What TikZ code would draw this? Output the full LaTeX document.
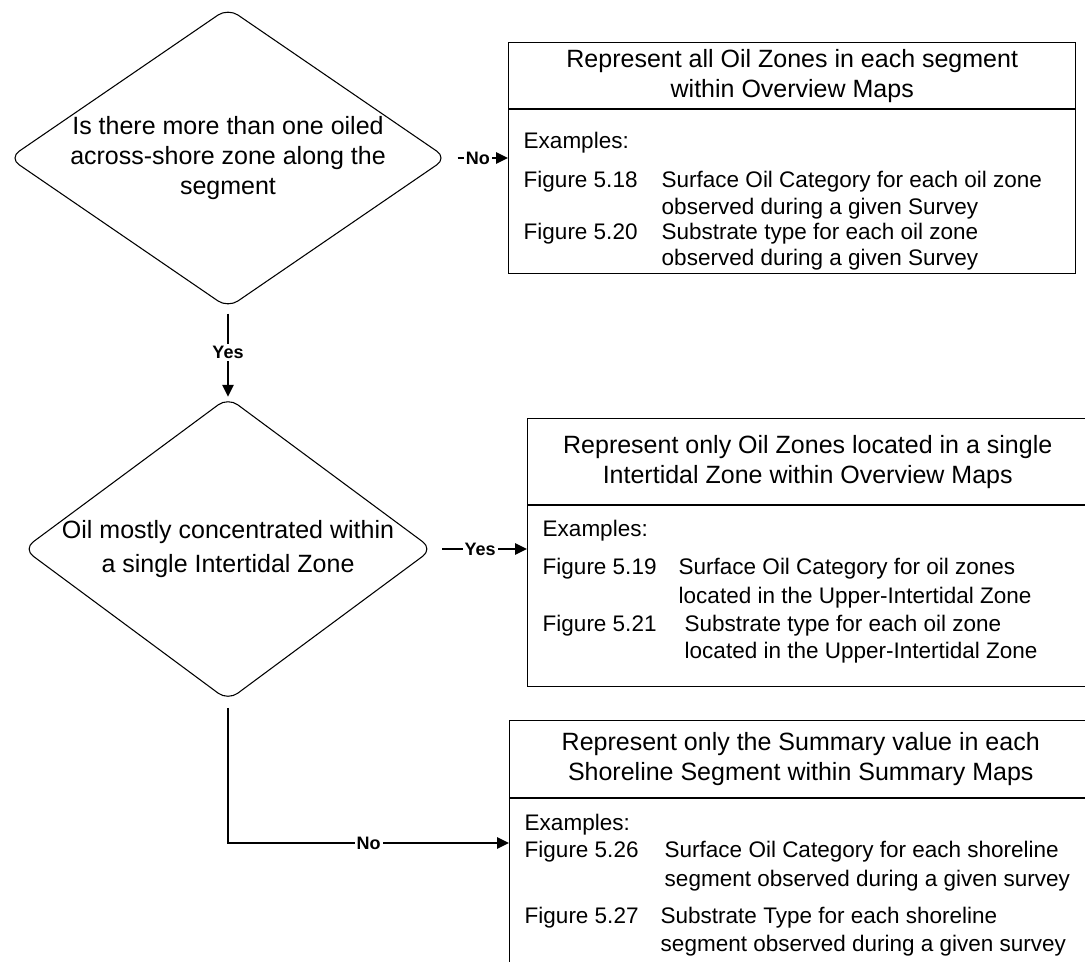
\documentclass[tikz,border=0pt]{standalone}
\usepackage{fontspec}
\setmainfont{Liberation Sans}
\usepackage{tikz}
\usetikzlibrary{positioning}
\usetikzlibrary{shapes.geometric,shapes.multipart}
\usetikzlibrary{arrows.meta}

\newlength{\pxu}
\setlength{\pxu}{0.75pt}
\newcommand{\figrow}[3]{\makebox[#1\pxu][l]{#2}#3}
\newcommand{\figcont}[2]{\hspace*{#1\pxu}#2}
\newcommand{\headtext}[3]{\parbox[c][#1\pxu][c]{#2\pxu}{\centering\fontsize{18.75}{22.5}\selectfont #3}}
\newcommand{\bodytext}[3]{\parbox[c][#1\pxu][t]{#2\pxu}{\fontsize{16.875}{20.25}\selectfont\leftskip=15\pxu #3}}

\begin{document}
\begin{tikzpicture}[x=0.75pt, y=-0.75pt,
    decision/.style={draw=black, line width=0.8pt, shape=diamond, rounded corners=9pt, inner sep=0pt, align=center, font=\fontsize{18.75}{22.5}\selectfont},
    result/.style={draw=black, line width=1.1pt, rectangle split, rectangle split parts=2, inner sep=0pt, anchor=north west},
    flow/.style={draw=black, line width=1.4pt, -{Triangle[length=9pt,width=8.5pt]}},
    answer/.style={fill=white, inner sep=1.5pt, font=\fontsize{13.5}{16}\selectfont\bfseries}]
    \useasboundingbox (0,0) rectangle (1085,961);
    \clip (0,0) rectangle (1085,961);

    \node[decision, minimum width=328.5pt, minimum height=225pt, shape aspect=1.46] (q1) at (228,158) {Is there more than one oiled\\across-shore zone along the\\segment};
    \node[decision, minimum width=301.5pt, minimum height=223.5pt, shape aspect=1.35, font=\fontsize{18.75}{25.5}\selectfont] (q2) at (228,549) {Oil mostly concentrated within\\a single Intertidal Zone};

    \node[result] (b1) at (508,42) {\headtext{65}{567}{Represent all Oil Zones in each segment\\within Overview Maps}\nodepart{two}\bodytext{163}{567}{\vspace*{22\pxu}Examples:\\[12\pxu]
        \figrow{138}{Figure 5.18}{Surface Oil Category for each oil zone}\\
        \figcont{138}{observed during a given Survey}\\[-2\pxu]
        \figrow{138}{Figure 5.20}{Substrate type for each oil zone}\\[-1\pxu]
        \figcont{138}{observed during a given Survey}}};
    \node[result] (b2) at (527,418) {\headtext{85}{560}{Represent only Oil Zones located in a single\\Intertidal Zone within Overview Maps}\nodepart{two}\bodytext{180}{560}{\vspace*{14\pxu}Examples:\\[11\pxu]
        \figrow{136}{Figure 5.19}{Surface Oil Category for oil zones}\\[2\pxu]
        \figcont{136}{located in the Upper-Intertidal Zone}\\[1\pxu]
        \figrow{142}{Figure 5.21}{Substrate type for each oil zone}\\
        \figcont{142}{located in the Upper-Intertidal Zone}}};
    \node[result] (b3) at (509,720) {\headtext{76}{582}{Represent only the Summary value in each\\Shoreline Segment within Summary Maps}\nodepart{two}\bodytext{200}{582}{\vspace*{15\pxu}Examples:\\
        \figrow{140}{Figure 5.26}{Surface Oil Category for each shoreline}\\[2\pxu]
        \figcont{140}{segment observed during a given survey}\\[10\pxu]
        \figrow{136}{Figure 5.27}{Substrate Type for each shoreline}\\[1\pxu]
        \figcont{136}{segment observed during a given survey}}};
    \coordinate (n3) at ([yshift=-92.25pt]b3.north west);

    \draw[flow, shorten <=7.5pt] (q1.east) -- node[answer]{No} (q1.east -| b1.west);
    \draw[flow, shorten <=3.75pt] (q1.south) -- node[answer]{Yes} (q2.north);
    \draw[flow, shorten <=6.75pt] (q2.east) -- node[answer]{Yes} (q2.east -| b2.west);
    \draw[flow, shorten <=5pt] (q2.south) |- node[answer, pos=0.75]{No} (n3);
\end{tikzpicture}
\end{document}
